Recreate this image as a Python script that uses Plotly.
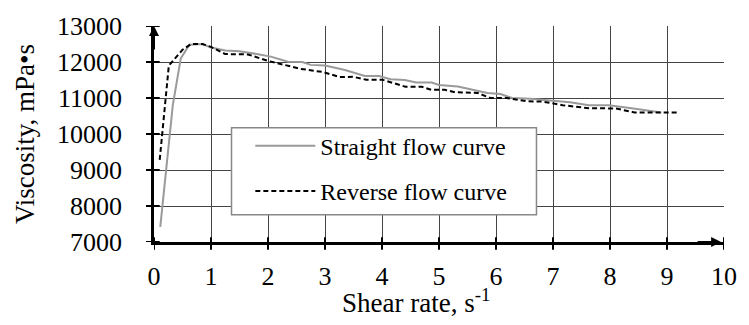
import plotly.graph_objects as go

# Straight flow curve (grey solid)
straight_x = [0.11, 0.33, 0.47, 0.62, 0.85, 1.0, 1.25, 1.5, 1.85, 2.05, 2.35, 2.6, 2.75, 3.0, 3.35,
              3.7, 3.95, 4.15, 4.4, 4.6, 4.87, 5.0, 5.33, 5.85, 6.08, 6.28, 6.6, 6.94, 7.3, 7.63,
              7.98, 8.38, 8.7, 8.9]
straight_y = [7420, 10800, 12100, 12480, 12500, 12400, 12320, 12300, 12210, 12150, 12010, 12000, 11920,
              11900, 11780, 11610, 11610, 11520, 11500, 11430, 11430, 11360, 11320, 11140, 11110, 11000,
              10980, 10930, 10880, 10800, 10800, 10715, 10640, 10600]

# Reverse flow curve (black dashed)
reverse_x = [0.1, 0.26, 0.5, 0.65, 0.85, 1.0, 1.25, 1.65, 2.0, 2.3, 2.57, 2.97, 3.26, 3.49, 3.72, 4.0,
             4.24, 4.41, 4.7, 4.87, 5.1, 5.28, 5.68, 5.9, 6.19, 6.54, 6.82, 7.17, 7.63, 8.1, 8.43, 9.21]
reverse_y = [9280, 11900, 12340, 12500, 12500, 12420, 12220, 12210, 12030, 11920, 11810, 11720, 11580,
             11590, 11510, 11510, 11405, 11315, 11310, 11226, 11226, 11160, 11140, 11000, 11000, 10910,
             10900, 10800, 10715, 10710, 10600, 10600]

x_ticks = list(range(0, 11))
y_ticks = list(range(7000, 13001, 1000))

FONT = "Liberation Serif"

fig = go.Figure()
fig.add_trace(go.Scatter(x=straight_x, y=straight_y, mode="lines", name="Straight flow curve",
                         line=dict(color="#9a9a9a", width=2), legendgroup="a"))
fig.add_trace(go.Scatter(x=reverse_x, y=reverse_y, mode="lines", name="Reverse flow curve",
                         line=dict(color="black", width=2, dash="5px,3px"), legendgroup="b"))

shapes = []
# legend box
shapes.append(dict(type="rect", xref="paper", yref="paper", x0=0.136, x1=0.671, y0=0.126, y1=0.529,
                   fillcolor="white", line=dict(color="#888888", width=1.5), layer="above"))
# crossing ticks
for t in x_ticks:
    shapes.append(dict(type="line", xref="x", yref="paper", x0=t, x1=t, y0=-0.036, y1=0.022,
                       line=dict(color="black", width=2)))
for t in y_ticks:
    shapes.append(dict(type="line", xref="paper", yref="y", x0=-0.014, x1=0.01, y0=t, y1=t,
                       line=dict(color="black", width=2)))

annotations = [
    dict(x=0, y=13000, xref="x", yref="y", ax=0, ay=25, text="",
         showarrow=True, arrowhead=2, arrowsize=1, arrowwidth=2, arrowcolor="black"),
    dict(x=9.95, y=7000, xref="x", yref="y", ax=-25, ay=0, text="",
         showarrow=True, arrowhead=2, arrowsize=1, arrowwidth=2, arrowcolor="black"),
    dict(x=0.46, y=-0.275, xref="paper", yref="paper", xanchor="center", yanchor="middle",
         text="Shear rate, s<sup>-1</sup>", showarrow=False, font=dict(family=FONT, size=27)),
]

fig.update_layout(
    width=749, height=325,
    margin=dict(l=154, r=15, t=19, b=83),
    paper_bgcolor="white", plot_bgcolor="white",
    font=dict(family=FONT, size=26, color="black"),
    shapes=shapes, annotations=annotations,
    legend=dict(x=0.169, y=0.548, xanchor="left", yanchor="top", bgcolor="rgba(0,0,0,0)",
                borderwidth=0, font=dict(family=FONT, size=24), itemwidth=60,
                tracegroupgap=11),
    xaxis=dict(range=[0, 10], tickvals=x_ticks, showgrid=True, gridcolor="#444444", gridwidth=1,
               showline=True, linecolor="black", linewidth=2.5, ticks="", zeroline=False,
               ticklabelstandoff=9, tickfont=dict(size=26)),
    yaxis=dict(range=[7000, 13000], tickvals=y_ticks, tickformat="d", showgrid=True,
               gridcolor="#444444", gridwidth=1,
               showline=True, linecolor="black", linewidth=2.5, ticks="", zeroline=False,
               ticklabelstandoff=24,
               title=dict(text="Viscosity, mPa•s", standoff=15, font=dict(size=27)),
               tickfont=dict(size=26)),
)

fig.write_html("out.html")
